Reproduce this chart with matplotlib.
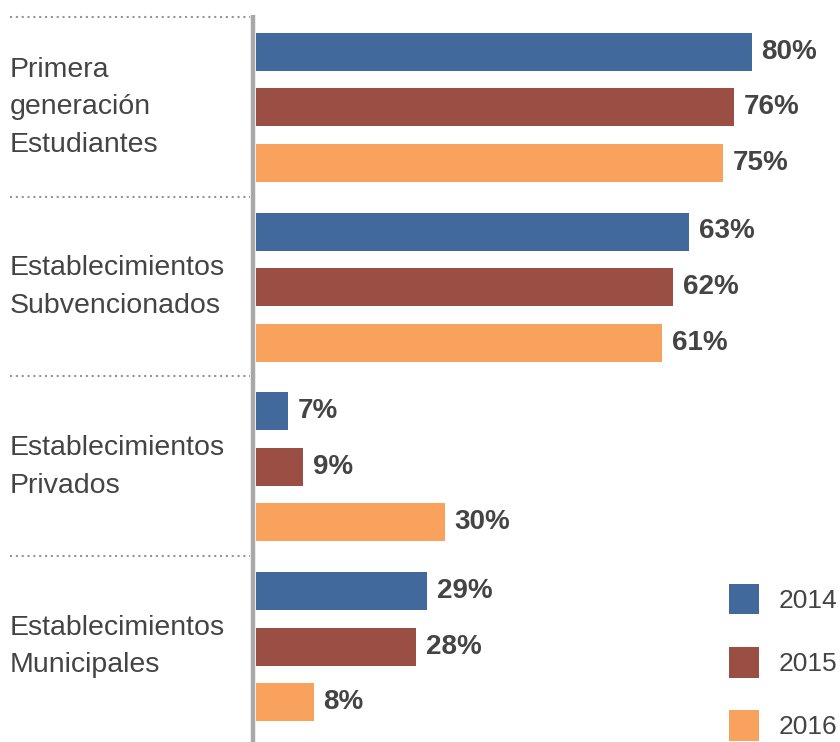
#!/usr/bin/env python3

import matplotlib.pyplot as plt
from matplotlib.patches import Patch


# data

categories = [
	"Primera\ngeneración\nEstudiantes",
	"Establecimientos\nSubvencionados",
	"Establecimientos\nPrivados",
	"Establecimientos\nMunicipales",
]
years = ["2014", "2015", "2016"]

# printed percentages
shown_pct = [
	[80, 76, 75],
	[63, 62, 61],
	[7, 9, 30],
	[29, 28, 8],
]

# bar lengths as drawn in the picture (same scale, 80% bar = 80)
bar_length = [
	[80.0, 77.1, 75.3],
	[69.9, 67.3, 65.6],
	[5.1, 7.6, 30.5],
	[27.6, 25.8, 9.3],
]

colors = ["#41699c", "#9a4e44", "#f9a25e"]
text_color = "#444444"

plt.rcParams["font.family"] = ["Liberation Sans", "DejaVu Sans"]

W, H = 840, 742
fig = plt.figure(figsize=(W / 100, H / 100), dpi=100)
ax = fig.add_axes([0, 0, 1, 1])

# x: value units, 0 at pixel 256, 6.196 px per unit ; y: pixel rows
px_per_unit = 6.196
x0_px = 256
ax.set_xlim(-x0_px / px_per_unit, (W - x0_px) / px_per_unit)
ax.set_ylim(H, 0)
ax.axis("off")

group_top = 51.7
group_pitch = 179.8
bar_pitch = 55.5
bar_h = 38

for i, cat in enumerate(categories):
	base = group_top + i * group_pitch
	for j in range(len(years)):
		y = base + j * bar_pitch
		ax.barh(y, bar_length[i][j], height=bar_h, color=colors[j], left=0)
		ax.annotate(
			f"{shown_pct[i][j]}%",
			xy=(bar_length[i][j], y), xytext=(7, 0), textcoords="offset points",
			va="center", ha="left", fontsize=20, fontweight="bold", color=text_color,
		)
	# category label
	ax.text(
		10 / px_per_unit - x0_px / px_per_unit, base + bar_pitch, cat,
		va="center", ha="left", fontsize=20.5, color=text_color, linespacing=1.58,
	)
	# dotted separator above the group
	sep_y = base - 35
	ax.plot(
		[(10 - x0_px) / px_per_unit, (250 - x0_px) / px_per_unit], [sep_y, sep_y],
		color="#959595", lw=1.5, linestyle=(0, (1, 1.8)),
	)

# vertical axis line
ax.vlines(-3 / px_per_unit, 15, H, color="#a8a8a8", lw=3.2)

handles = [Patch(facecolor=c, edgecolor="none") for c in colors]
fig.legend(
	handles, years, loc="lower left", bbox_to_anchor=(729 / W, 1 / H),
	bbox_transform=fig.transFigure, frameon=False, borderpad=0, borderaxespad=0,
	fontsize=19, handlelength=1.14, handleheight=1.42, handletextpad=0.75,
	labelspacing=1.23, labelcolor=text_color,
)

fig.savefig("out.png", dpi=100)
